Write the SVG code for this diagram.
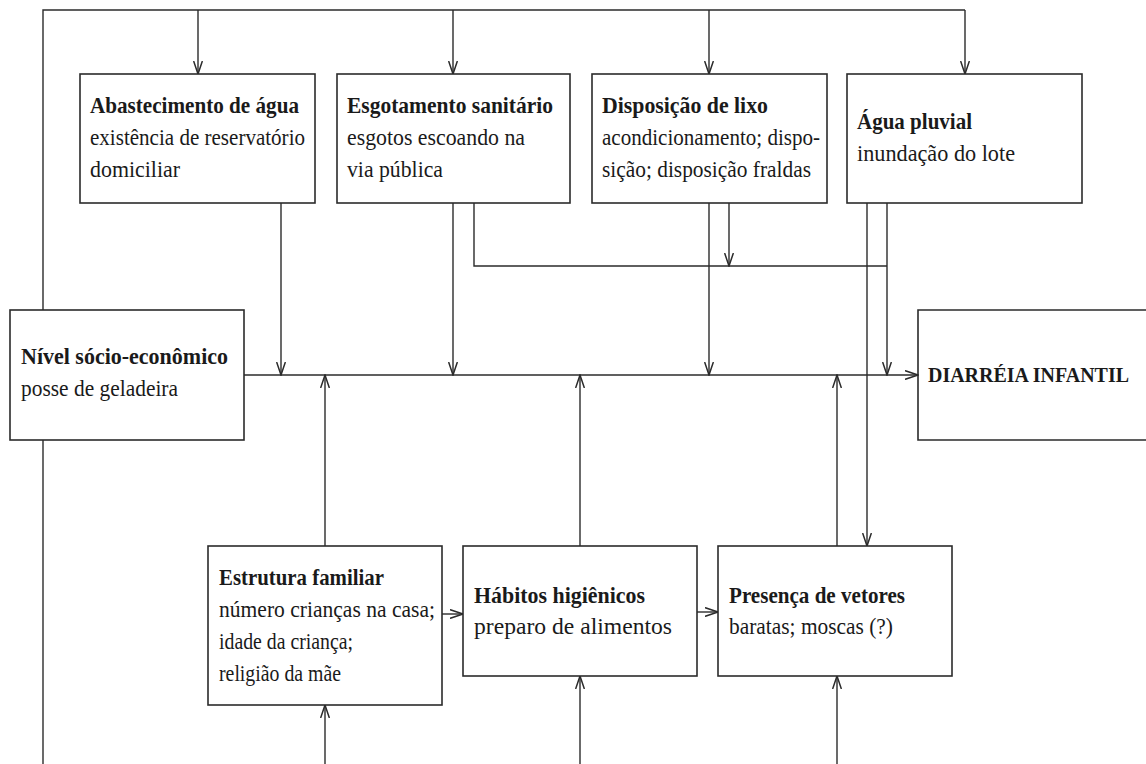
<svg xmlns="http://www.w3.org/2000/svg" width="1146" height="764" viewBox="0 0 1146 764">
<style>
  .box { fill: #ffffff; stroke: #2b2b2b; stroke-width: 1.6; }
  .open { fill: none; stroke: #2b2b2b; stroke-width: 1.6; }
  .ln { fill: none; stroke: #2b2b2b; stroke-width: 1.4; }
  .ar { fill: none; stroke: #2b2b2b; stroke-width: 1.4; marker-end: url(#arr); }
  text { font-family: "Liberation Serif", "Times New Roman", serif; font-size: 23.5px; fill: #1a1a1a; }
  .t { font-weight: bold; }
  .d { font-weight: bold; font-size: 20.5px; }
</style>
<defs>
  <marker id="arr" markerUnits="userSpaceOnUse" viewBox="0 0 14 10" refX="13" refY="5" markerWidth="14" markerHeight="10" orient="auto">
    <path d="M0,0.6 L13,5 L0,9.4" fill="none" stroke="#2b2b2b" stroke-width="1.5"/>
  </marker>
</defs>
<rect width="1146" height="764" fill="#ffffff"/>

<g id="connectors">
  <polyline class="ln" points="43,310 43,10 965,10"/>
  <line class="ar" x1="198" y1="10" x2="198" y2="74"/>
  <line class="ar" x1="453" y1="10" x2="453" y2="74"/>
  <line class="ar" x1="709" y1="10" x2="709" y2="74"/>
  <line class="ar" x1="965" y1="10" x2="965" y2="74"/>
  <line class="ln" x1="43" y1="440" x2="43" y2="764"/>
  <line class="ar" x1="325" y1="764" x2="325" y2="705"/>
  <line class="ar" x1="580" y1="764" x2="580" y2="676"/>
  <line class="ar" x1="837" y1="764" x2="837" y2="676"/>
  <line class="ar" x1="244" y1="375" x2="918" y2="375"/>
  <line class="ar" x1="281" y1="203" x2="281" y2="375"/>
  <line class="ar" x1="453" y1="203" x2="453" y2="375"/>
  <line class="ar" x1="709" y1="203" x2="709" y2="375"/>
  <polyline class="ln" points="474,203 474,266 887,266"/>
  <line class="ar" x1="729" y1="203" x2="729" y2="266"/>
  <line class="ar" x1="887" y1="203" x2="887" y2="375"/>
  <line class="ar" x1="867" y1="203" x2="867" y2="546"/>
  <line class="ar" x1="325" y1="546" x2="325" y2="375"/>
  <line class="ar" x1="580" y1="546" x2="580" y2="375"/>
  <line class="ar" x1="837" y1="546" x2="837" y2="375"/>
  <line class="ar" x1="442" y1="614" x2="463" y2="614"/>
  <line class="ar" x1="697" y1="612" x2="718" y2="612"/>
</g>

<g id="abastecimento">
  <rect class="box" x="80" y="74" width="235" height="129"/>
  <text class="t" x="90" y="113" textLength="209" lengthAdjust="spacingAndGlyphs">Abastecimento de água</text>
  <text x="90" y="145" textLength="215" lengthAdjust="spacingAndGlyphs">existência de reservatório</text>
  <text x="90" y="177" textLength="90" lengthAdjust="spacingAndGlyphs">domiciliar</text>
</g>

<g id="esgotamento">
  <rect class="box" x="337" y="74" width="233" height="129"/>
  <text class="t" x="347" y="113" textLength="206" lengthAdjust="spacingAndGlyphs">Esgotamento sanitário</text>
  <text x="347" y="145" textLength="178" lengthAdjust="spacingAndGlyphs">esgotos escoando na</text>
  <text x="347" y="177" textLength="96" lengthAdjust="spacingAndGlyphs">via pública</text>
</g>

<g id="lixo">
  <rect class="box" x="592" y="74" width="235" height="129"/>
  <text class="t" x="602" y="113" textLength="166" lengthAdjust="spacingAndGlyphs">Disposição de lixo</text>
  <text x="602" y="145" textLength="218" lengthAdjust="spacingAndGlyphs">acondicionamento; dispo-</text>
  <text x="602" y="177" textLength="209" lengthAdjust="spacingAndGlyphs">sição; disposição fraldas</text>
</g>

<g id="pluvial">
  <rect class="box" x="847" y="74" width="235" height="129"/>
  <text class="t" x="857" y="129" textLength="115" lengthAdjust="spacingAndGlyphs">Água pluvial</text>
  <text x="857" y="161" textLength="158" lengthAdjust="spacingAndGlyphs">inundação do lote</text>
</g>

<g id="nivel">
  <rect class="box" x="10" y="310" width="234" height="130"/>
  <text class="t" x="21" y="364" textLength="207" lengthAdjust="spacingAndGlyphs">Nível sócio-econômico</text>
  <text x="21" y="396" textLength="157" lengthAdjust="spacingAndGlyphs">posse de geladeira</text>
</g>

<g id="diarreia">
  <path class="open" d="M1146,310 L918,310 L918,440 L1146,440"/>
  <text class="d" x="928" y="382" textLength="201" lengthAdjust="spacingAndGlyphs">DIARRÉIA INFANTIL</text>
</g>

<g id="estrutura">
  <rect class="box" x="208" y="546" width="234" height="159"/>
  <text class="t" x="219" y="585" textLength="165" lengthAdjust="spacingAndGlyphs">Estrutura familiar</text>
  <text x="219" y="617" textLength="216" lengthAdjust="spacingAndGlyphs">número crianças na casa;</text>
  <text x="219" y="649" textLength="134" lengthAdjust="spacingAndGlyphs">idade da criança;</text>
  <text x="219" y="681" textLength="122" lengthAdjust="spacingAndGlyphs">religião da mãe</text>
</g>

<g id="habitos">
  <rect class="box" x="463" y="546" width="234" height="130"/>
  <text class="t" x="474" y="603" textLength="171" lengthAdjust="spacingAndGlyphs">Hábitos higiênicos</text>
  <text x="474" y="634" textLength="198" lengthAdjust="spacingAndGlyphs">preparo de alimentos</text>
</g>

<g id="presenca">
  <rect class="box" x="718" y="546" width="234" height="130"/>
  <text class="t" x="729" y="603" textLength="176" lengthAdjust="spacingAndGlyphs">Presença de vetores</text>
  <text x="729" y="634" textLength="164" lengthAdjust="spacingAndGlyphs">baratas; moscas (?)</text>
</g>
</svg>
